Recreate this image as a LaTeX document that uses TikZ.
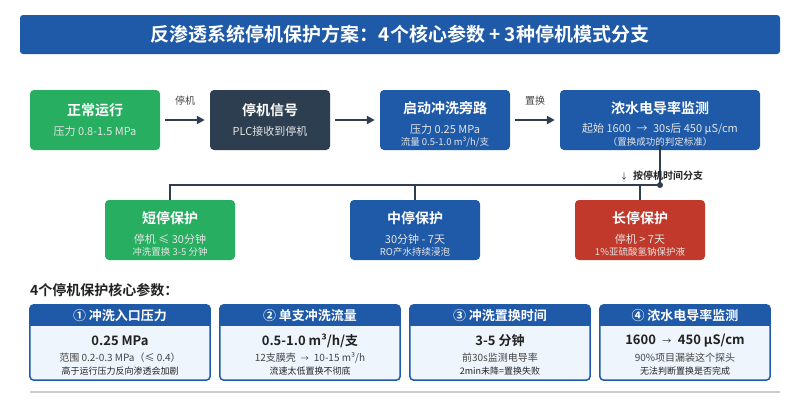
\documentclass[tikz,border=0pt]{standalone}
\usepackage{fontspec}
\setmainfont{Noto Sans CJK SC}[BoldFont={Noto Sans CJK SC Bold}]
\usetikzlibrary{arrows.meta}
\definecolor{cgreen}{HTML}{27AE60}
\definecolor{cdark}{HTML}{2C3E50}
\definecolor{cblue}{HTML}{1F5AA8}
\definecolor{cred}{HTML}{C0392B}
\definecolor{clight}{HTML}{EEF5FD}
\definecolor{ctext}{HTML}{222222}
\definecolor{cgray}{HTML}{444444}
\definecolor{cline}{HTML}{CCCCCC}
\tikzset{
  box/.style={rounded corners=4pt, minimum height=60pt, inner sep=0pt, draw=none},
  ttl/.style={text=white, font=\fontsize{14}{16}\selectfont\bfseries, inner sep=0pt},
  sub/.style={text=white!90!black, font=\fontsize{11}{13}\selectfont, inner sep=0pt},
  subs/.style={text=white!90!black, font=\fontsize{9.5}{11}\selectfont, inner sep=0pt},
  arr/.style={draw=cdark, line width=2pt, -{Triangle[length=8pt,width=8pt]}},
  alab/.style={text=cgray, font=\fontsize{10}{12}\selectfont, inner sep=0pt},
  conn/.style={draw=cdark, line width=2pt},
  card/.style={rounded corners=4pt, minimum height=75pt, inner sep=0pt},
  chead/.style={text=white, font=\fontsize{13}{15}\selectfont\bfseries, inner sep=0pt},
  cval/.style={text=ctext, font=\fontsize{13}{15}\selectfont\bfseries, inner sep=0pt},
  cl2/.style={text=cgray, font=\fontsize{10}{12}\selectfont, inner sep=0pt},
  cl3/.style={text=ctext, font=\fontsize{9}{11}\selectfont, inner sep=0pt},
}
\begin{document}
\begin{tikzpicture}[x=1pt,y=-1pt]
\useasboundingbox[fill=white] (0,0) rectangle (800,400);
% title
\node[fill=cblue, rounded corners=3pt, minimum width=760pt, minimum height=39pt, inner sep=0pt] (title) at (400,34.5) {};
\node[text=white, font=\fontsize{19}{22}\selectfont\bfseries, inner sep=0pt] (titletxt) at (400,34.5) {反渗透系统停机保护方案：4个核心参数 + 3种停机模式分支};

% top row
\node[box, fill=cgreen, minimum width=130pt] (b1) at (95,120) {};
\node[ttl] (b1t) at (95,110) {正常运行};
\node[sub] (b1s) at (95,131) {压力 0.8-1.5 MPa};

\node[box, fill=cdark, minimum width=120pt] (b2) at (270,120) {};
\node[ttl] (b2t) at (270,110) {停机信号};
\node[sub] (b2s) at (270,131) {PLC接收到停机};

\node[box, fill=cblue, minimum width=130pt] (b3) at (445,120) {};
\node[ttl] (b3t) at (445,108) {启动冲洗旁路};
\node[sub] (b3s) at (445,129) {压力 0.25 MPa};
\node[subs] (b3u) at (445,142) {流量 0.5-1.0 m³/h/支};

\node[box, fill=cblue, minimum width=200pt] (b4) at (660,120) {};
\node[ttl] (b4t) at (660,108) {浓水电导率监测};
\node[sub] (b4s) at (660,129) {起始 1600\enspace→\enspace30s后 450 μS/cm};
\node[subs] (b4u) at (660,142) {（置换成功的判定标准）};

\draw[arr] ([xshift=5pt]b1.east) -- ([xshift=-5pt]b2.west);
\node[alab] (l1) at (185,101) {停机};
\draw[arr] ([xshift=5pt]b2.east) -- ([xshift=-5pt]b3.west);
\draw[arr] ([xshift=5pt]b3.east) -- ([xshift=-5pt]b4.west);
\node[alab] (l2) at (535,101) {置换};

% bottom row
\node[box, fill=cgreen, minimum width=130pt] (s1) at (170,230) {};
\node[ttl] (s1t) at (170,218) {短停保护};
\node[sub] (s1s) at (170,239) {停机 ≤ 30分钟};
\node[subs] (s1u) at (170,252) {冲洗置换 3-5 分钟};

\node[box, fill=cblue, minimum width=130pt] (s2) at (415,230) {};
\node[ttl] (s2t) at (415,218) {中停保护};
\node[sub] (s2s) at (415,239) {30分钟 - 7天};
\node[subs] (s2u) at (415,252) {RO产水持续浸泡};

\node[box, fill=cred, minimum width=130pt] (s3) at (640,230) {};
\node[ttl] (s3t) at (640,218) {长停保护};
\node[sub] (s3s) at (640,239) {停机 > 7天};
\node[subs] (s3u) at (640,252) {1\%亚硫酸氢钠保护液};

% branch connectors
\coordinate (jn) at (660,185);
\draw[conn] ([yshift=5pt]b4.south) -- (jn);
\fill[cdark] (jn) circle (3pt);
\draw[conn] (jn) -- (170,185) -- (s1.north);
\draw[conn] (415,185) -- (s2.north);
\draw[conn] (640,185) -- (s3.north);
\node[anchor=west, inner sep=0pt, text=ctext, font=\fontsize{10}{12}\selectfont\bfseries] (blab) at (620,176) {{\mdseries\fontsize{8}{10}\selectfont ↓}\enspace 按停机时间分支};

% parameters heading
\node[anchor=west, inner sep=0pt, text=ctext, font=\fontsize{14}{16}\selectfont\bfseries] (ph) at (30,290) {4个停机保护核心参数：};

% cards
\foreach \n/\cx/\w in {c1/120/180, c2/310/180, c3/500/180, c4/685/170} {
  \node[card, fill=clight, minimum width=\w pt] (\n) at (\cx,342.5) {};
  \begin{scope}
    \clip[rounded corners=4pt] (\n.north west) rectangle (\n.south east);
    \fill[cblue] (\n.north west) rectangle ([yshift=-21pt]\n.north east);
  \end{scope}
  \draw[cblue, line width=1.5pt, rounded corners=4pt] (\n.north west) rectangle (\n.south east);
}

\node[chead] (h1) at (120,315.5) {① 冲洗入口压力};
\node[cval] (v1) at (120,340.5) {0.25 MPa};
\node[cl2] (a1) at (120,358) {范围 0.2-0.3 MPa（≤ 0.4）};
\node[cl3] (d1) at (120,371.5) {高于运行压力反向渗透会加剧};

\node[chead] (h2) at (310,315.5) {② 单支冲洗流量};
\node[cval] (v2) at (310,340.5) {0.5-1.0 m³/h/支};
\node[cl2] (a2) at (310,358) {12支膜壳\enspace{\fontsize{8}{10}\selectfont →}\enspace10-15 m³/h};
\node[cl3] (d2) at (310,371.5) {流速太低置换不彻底};

\node[chead] (h3) at (500,315.5) {③ 冲洗置换时间};
\node[cval] (v3) at (500,340.5) {3-5 分钟};
\node[cl2] (a3) at (500,358) {前30s监测电导率};
\node[cl3] (d3) at (500,371.5) {2min未降=置换失败};

\node[chead] (h4) at (685,315.5) {④ 浓水电导率监测};
\node[cval] (v4) at (685,340.5) {1600\enspace{\mdseries\fontsize{9}{10}\selectfont →}\enspace450 μS/cm};
\node[cl2] (a4) at (685,358) {90\%项目漏装这个探头};
\node[cl3] (d4) at (685,371.5) {无法判断置换是否完成};

% bottom rule
\draw[cline, line width=2pt] (30,392) -- (780,392);
\end{tikzpicture}
\end{document}
